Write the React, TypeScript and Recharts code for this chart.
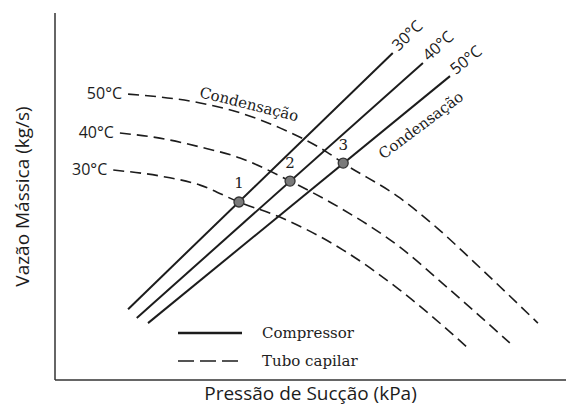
import React from 'react';
import {
  ComposedChart,
  Line,
  Scatter,
  XAxis,
  YAxis,
  Legend,
  LabelList,
  ReferenceDot,
  Label,
} from 'recharts';

const SANS = '"Open Sans", sans-serif';
const SERIF = '"DejaVu Serif", serif';
const INK = '#1c1c1c';

// compressor curves (solid), suction pressure p vs mass flow m, arbitrary units
const compressor30 = [{ p: 14.3, m: 19.3 }, { p: 66.1, m: 89.1 }];
const compressor40 = [{ p: 16.0, m: 16.9 }, { p: 72.0, m: 86.4 }];
const compressor50 = [{ p: 18.2, m: 15.5 }, { p: 77.3, m: 82.8 }];

// capillary tube curves (dashed)
const capillary30 = [
  { p: 11.4, m: 57.2 }, { p: 20.5, m: 55.6 }, { p: 28.4, m: 53.1 }, { p: 36.0, m: 48.5 },
  { p: 44.0, m: 44.4 }, { p: 56.4, m: 35.4 }, { p: 67.5, m: 24.5 }, { p: 80.6, m: 9.0 },
];
const capillary40 = [
  { p: 12.7, m: 67.3 }, { p: 20.5, m: 65.9 }, { p: 28.4, m: 63.5 }, { p: 36.2, m: 60.5 },
  { p: 46.0, m: 54.2 }, { p: 55.8, m: 46.9 }, { p: 67.5, m: 36.2 }, { p: 76.7, m: 25.3 },
  { p: 89.0, m: 10.1 },
];
const capillary50 = [
  { p: 14.3, m: 77.9 }, { p: 28.4, m: 75.5 }, { p: 36.2, m: 72.8 }, { p: 44.0, m: 68.7 },
  { p: 53.2, m: 62.1 }, { p: 56.4, m: 59.1 }, { p: 67.5, m: 49.6 }, { p: 74.8, m: 41.4 },
  { p: 81.8, m: 32.4 }, { p: 94.5, m: 15.5 },
];

// balance points
const operatingPoints = [
  { p: 36.0, m: 48.5, id: '1' },
  { p: 46.0, m: 54.2, id: '2' },
  { p: 56.4, m: 59.1, id: '3' },
];

const compressorSeries = [
  { name: '30°C', data: compressor30, angle: -44 },
  { name: '40°C', data: compressor40, angle: -42 },
  { name: '50°C', data: compressor50, angle: -39 },
];
const capillarySeries = [
  { name: '30°C', data: capillary30 },
  { name: '40°C', data: capillary40 },
  { name: '50°C', data: capillary50 },
];

const endLabel = (text: string, last: number, angle: number) => (props: any) => {
  const { x, y, index } = props;
  if (index !== last) return null;
  return (
    <g transform={`translate(${x},${y}) rotate(${angle})`}>
      <text x={5} y={-3} dominantBaseline="central" fontFamily={SANS} fontSize={16} fill={INK}>
        {text}
      </text>
    </g>
  );
};

const startLabel = (text: string) => (props: any) => {
  const { x, y, index } = props;
  if (index !== 0) return null;
  return (
    <text x={x - 6} y={y - 1} textAnchor="end" dominantBaseline="central" fontFamily={SANS} fontSize={16} fill={INK}>
      {text}
    </text>
  );
};

const renderPoint = (props: any) => {
  const { cx, cy } = props;
  return <circle cx={cx} cy={cy} r={5} fill="#7a7a7a" stroke="#333" strokeWidth={1.3} />;
};

const renderLegend = () => (
  <div style={{ fontFamily: SERIF, fontSize: 15, color: '#222' }}>
    <div style={{ display: 'flex', alignItems: 'center', height: 28 }}>
      <svg width={64} height={6}>
        <line x1={0} y1={3} x2={64} y2={3} stroke={INK} strokeWidth={2.5} />
      </svg>
      <span style={{ marginLeft: 20 }}>Compressor</span>
    </div>
    <div style={{ display: 'flex', alignItems: 'center', height: 28 }}>
      <svg width={64} height={6}>
        <line x1={0} y1={3} x2={64} y2={3} stroke={INK} strokeWidth={1.5} strokeDasharray="16 6" />
      </svg>
      <span style={{ marginLeft: 20 }}>Tubo capilar</span>
    </div>
  </div>
);

export default function App() {
  return (
    <div style={{ position: 'absolute', left: 0, top: 0, background: '#fff' }}>
      <ComposedChart width={566} height={407} margin={{ top: 13, right: 0, bottom: 0, left: 0 }}>
        <XAxis
          type="number"
          dataKey="p"
          domain={[0, 100]}
          height={27}
          tick={false}
          tickLine={false}
          axisLine={{ stroke: '#333', strokeWidth: 1.5 }}
        >
          <Label value="Pressão de Sucção (kPa)" position="center" dy={0} fontFamily={SANS} fontSize={19} fill={INK} />
        </XAxis>
        <YAxis
          type="number"
          dataKey="m"
          domain={[0, 100]}
          width={55}
          tick={false}
          tickLine={false}
          axisLine={{ stroke: '#333', strokeWidth: 1.5 }}
        >
          <Label value="Vazão Mássica (kg/s)" position="center" angle={-90} dx={-5} fontFamily={SANS} fontSize={19} fill={INK} />
        </YAxis>
        <Legend layout="horizontal" verticalAlign="middle" align="center" content={renderLegend} wrapperStyle={{ left: 178, top: 319, width: 220 }} />

        {capillarySeries.map((s) => (
          <Line
            key={`cap-${s.name}`}
            data={s.data}
            dataKey="m"
            type="monotone"
            stroke={INK}
            strokeWidth={1.6}
            strokeDasharray="11 6"
            dot={false}
            activeDot={false}
            isAnimationActive={false}
          >
            <LabelList dataKey="m" content={startLabel(s.name)} />
          </Line>
        ))}
        {compressorSeries.map((s) => (
          <Line
            key={`comp-${s.name}`}
            data={s.data}
            dataKey="m"
            type="linear"
            stroke={INK}
            strokeWidth={2}
            dot={false}
            activeDot={false}
            isAnimationActive={false}
          >
            <LabelList dataKey="m" content={endLabel(s.name, s.data.length - 1, s.angle)} />
          </Line>
        ))}

        <ReferenceDot x={38.0} y={75.2} r={0} fill="none" stroke="none">
          <Label value="Condensação" position="center" angle={14} fontFamily={SERIF} fontSize={15} fill={INK} />
        </ReferenceDot>
        <ReferenceDot x={71.6} y={69.5} r={0} fill="none" stroke="none">
          <Label value="Condensação" position="center" angle={-37} fontFamily={SERIF} fontSize={15} fill={INK} />
        </ReferenceDot>

        <Scatter data={operatingPoints} dataKey="m" shape={renderPoint} isAnimationActive={false}>
          <LabelList dataKey="id" position="top" offset={9} fontFamily={SERIF} fontSize={15} fill={INK} />
        </Scatter>
      </ComposedChart>
    </div>
  );
}
